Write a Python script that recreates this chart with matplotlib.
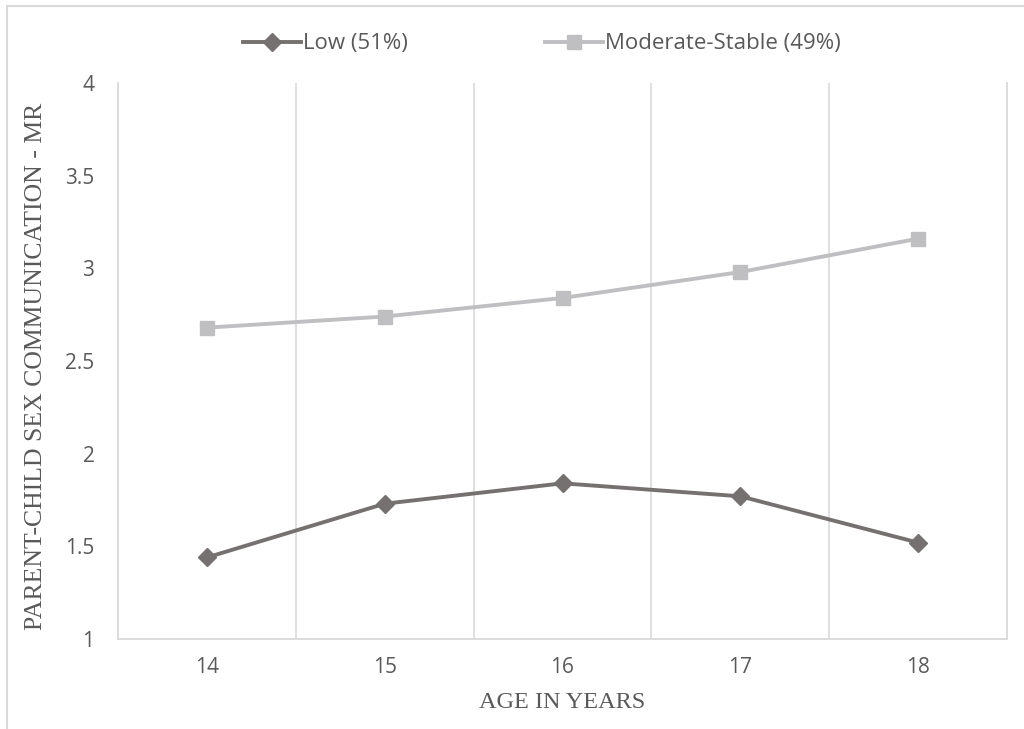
import matplotlib.pyplot as plt
from matplotlib.patches import Rectangle

ages = ["14", "15", "16", "17", "18"]
low = [1.44, 1.73, 1.84, 1.77, 1.52]
moderate = [2.68, 2.74, 2.84, 2.98, 3.16]
series_names = ["Low (51%)", "Moderate-Stable (49%)"]
y_ticks = [1, 1.5, 2, 2.5, 3, 3.5, 4]
y_tick_labels = ["1", "1.5", "2", "2.5", "3", "3.5", "4"]

text_col = "#595959"
grid_col = "#d9d9d9"

fig = plt.figure(figsize=(10.24, 7.29), dpi=100)
ax = fig.add_axes([118 / 1024, 1 - 639 / 729, 889 / 1024, 556 / 729])

x = list(range(len(ages)))
ax.plot(x, low, color="#767171", lw=2.8, marker="D", ms=9, label=series_names[0])
ax.plot(x, moderate, color="#bfbfc1", lw=2.8, marker="s", ms=9.5, label=series_names[1])

ax.set_xlim(-0.5, len(ages) - 0.5)
ax.set_ylim(1, 4)
ax.set_yticks(y_ticks)
ax.set_yticklabels(y_tick_labels)
ax.set_xticks(x)
ax.set_xticklabels(ages)

# vertical gridlines between categories
ax.set_xticks([i + 0.5 for i in x[:-1]], minor=True)
ax.grid(True, which="minor", axis="x", color=grid_col, lw=1.2)
ax.tick_params(which="both", length=0)
ax.tick_params(axis="y", pad=17, labelsize=15, labelcolor=text_col)
ax.tick_params(axis="x", pad=13, labelsize=15, labelcolor=text_col)
for lab in ax.get_xticklabels() + ax.get_yticklabels():
    lab.set_family("Open Sans")

for side in ["left", "right", "bottom"]:
    ax.spines[side].set_color(grid_col)
    ax.spines[side].set_linewidth(1.3)
ax.spines["top"].set_visible(False)

ax.set_xlabel("AGE IN YEARS", family="Liberation Serif", fontsize=17.5,
              color=text_col)
ax.xaxis.set_label_coords(0.5, -0.095)
ax.set_ylabel("PARENT-CHILD SEX COMMUNICATION - MR", family="Liberation Serif",
              fontsize=18.5, color=text_col)
ax.yaxis.set_label_coords(-0.08, 0.49)

leg = fig.legend(loc="center", bbox_to_anchor=(542 / 1024, 1 - 44 / 729), ncol=2,
                 frameon=False, prop={"family": "Open Sans", "size": 16},
                 handlelength=2.6, handletextpad=0.1, columnspacing=6.2)
for t in leg.get_texts():
    t.set_color(text_col)

# outer chart border (cropped on right and bottom)
fig.patches.append(Rectangle((7 / 1024, -0.1), 1.2, 1 - 6 / 729 + 0.1,
                             transform=fig.transFigure, fill=False,
                             edgecolor=grid_col, lw=1.5))

fig.savefig("out.png", dpi=100)
